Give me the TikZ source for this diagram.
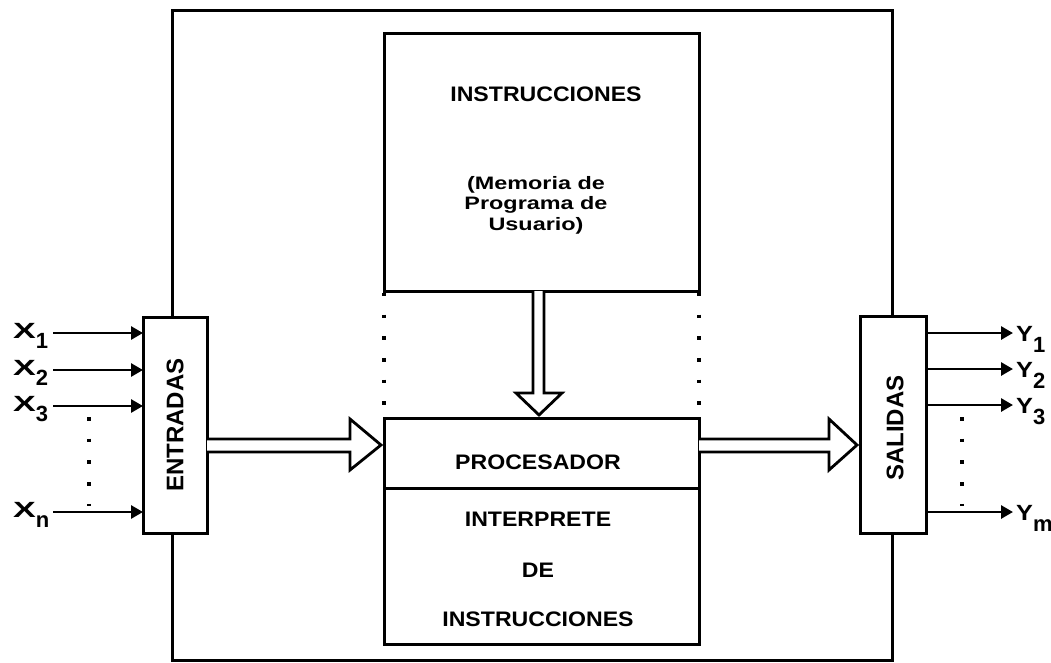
\documentclass[tikz,border=0pt]{standalone}
\usepackage{fontspec}
\setmainfont{Liberation Sans}
\newfontfamily\boxfont[FakeStretch=1.1]{Liberation Sans}
\newfontfamily\memfont[FakeStretch=1.3]{Liberation Sans}
\newfontfamily\xfont[FakeStretch=1.55]{Liberation Sans}
\newfontfamily\yfont[FakeStretch=1.15]{Liberation Sans}
\usetikzlibrary{arrows.meta}
\newcommand\lowsub[2]{\raisebox{-#1}{\rmfamily #2}}

\begin{document}
\begin{tikzpicture}[x=1pt,y=-1pt,
  frame/.style={draw, line width=3pt, inner sep=0pt, outer sep=0pt},
  io/.style={frame, fill=white},
  hollow/.style={draw, line width=2.8pt, fill=white, line join=miter},
  sig/.style={line width=2.8pt, -{Triangle[length=12pt,width=13pt]}},
  dots/.style={line width=3.6pt, dash pattern=on 3.6pt off 18.1pt},
  divider/.style={line width=3pt},
  txt/.style={inner sep=0pt, font=\boxfont\bfseries\fontsize{21}{25}\selectfont},
  memtxt/.style={inner sep=0pt, align=center, font=\memfont\bfseries\fontsize{18}{20.5}\selectfont},
  vtxt/.style={inner sep=0pt, rotate=90, font=\bfseries\fontsize{24}{28}\selectfont},
  xlab/.style={inner sep=0pt, anchor=base west, font=\bfseries\fontsize{22}{26}\selectfont},
]
\useasboundingbox (0,0) rectangle (1051,662);

% system frame and the inner blocks
\node[frame, minimum width=720pt, minimum height=650pt] (sys) at (532,335) {};
\node[frame, minimum width=315pt, minimum height=258pt] (mem) at (541.5,162) {};
\node[frame, minimum width=315pt, minimum height=226pt] (cpu) at (541.5,531) {};
\node[io, minimum width=64pt, minimum height=216pt] (ent) at (175,425) {};
\node[io, minimum width=66pt, minimum height=217pt] (sal) at (893,424.5) {};

% processor split into two sections
\draw[divider] (cpu.west |- 0,488) -- (cpu.east |- 0,488);

% texts of the blocks
\node[txt] (memtitle) at (546,94) {INSTRUCCIONES};
\node[memtxt] (memsub) at (536,205) {(Memoria de\\Programa de\\Usuario)};
\node[txt] (cputitle) at (538,462) {PROCESADOR};
\node[txt] (interp1) at (538,519) {INTERPRETE};
\node[txt] (interp2) at (538,570) {DE};
\node[txt] (interp3) at (538,619) {INSTRUCCIONES};
\node[vtxt] (entlbl) at (175,425) {ENTRADAS};
\node[vtxt] (sallbl) at (895,428) {SALIDAS};

% dotted guides between memory and processor
\draw[dots, dash phase=19.9pt] (mem.south west) -- (cpu.north west);
\draw[dots, dash phase=19.9pt] (mem.south east) -- (cpu.north east);

% wide hollow arrows
\draw[hollow] (ent.east |- 0,439) -- (350,439) -- (350,419) -- (381,445)
  -- (350,470) -- (350,452) -- (ent.east |- 0,452);
\draw[hollow] (cpu.east |- 0,439) -- (829,439) -- (829,419) -- (857,445)
  -- (829,470) -- (829,452) -- (cpu.east |- 0,452);
\draw[hollow] (533,0 |- mem.south) -- (533,393) -- (516,393) -- (539,415)
  -- (562,393) -- (544,393) -- (544,0 |- mem.south);

% input signals
\coordinate (xin1) at (53,333);
\coordinate (xin2) at (53,370);
\coordinate (xin3) at (53,406);
\coordinate (xinn) at (53,512);
\draw[sig] (xin1) -- (xin1 -| ent.west);
\draw[sig] (xin2) -- (xin2 -| ent.west);
\draw[sig] (xin3) -- (xin3 -| ent.west);
\draw[sig] (xinn) -- (xinn -| ent.west);
\draw[dots] (89,417) -- (89,506);
\node[xlab] (lx1) at (13,338) {{\xfont X}\lowsub{10pt}{1}};
\node[xlab] (lx2) at (13,375) {{\xfont X}\lowsub{10pt}{2}};
\node[xlab] (lx3) at (13,411) {{\xfont X}\lowsub{10pt}{3}};
\node[xlab] (lxn) at (13,517) {{\xfont X}\lowsub{10pt}{n}};

% output signals
\coordinate (yout1) at (1013,333);
\coordinate (yout2) at (1013,369);
\coordinate (yout3) at (1013,405);
\coordinate (youtm) at (1013,512);
\draw[sig] (sal.east |- yout1) -- (yout1);
\draw[sig] (sal.east |- yout2) -- (yout2);
\draw[sig] (sal.east |- yout3) -- (yout3);
\draw[sig] (sal.east |- youtm) -- (youtm);
\draw[dots] (962,417) -- (962,506);
\node[xlab] (ly1) at (1016,341) {{\yfont Y}\lowsub{11pt}{1}};
\node[xlab] (ly2) at (1016,377) {{\yfont Y}\lowsub{11pt}{2}};
\node[xlab] (ly3) at (1016,413) {{\yfont Y}\lowsub{11pt}{3}};
\node[xlab] (lym) at (1016,520) {{\yfont Y}\lowsub{11pt}{m}};
\end{tikzpicture}
\end{document}
